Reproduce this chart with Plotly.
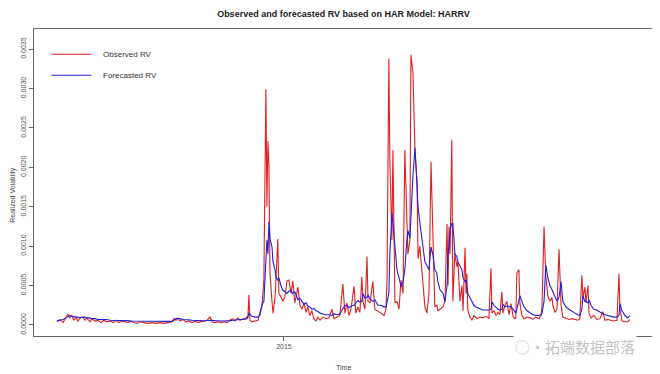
import numpy as np
import plotly.graph_objects as go

# Time in decimal years (R ts style)
time = [
    2014.106, 2014.118, 2014.130, 2014.142, 2014.150, 2014.157, 2014.165, 2014.173, 2014.181, 2014.189,
    2014.197, 2014.209, 2014.217, 2014.224, 2014.236, 2014.244, 2014.256, 2014.268, 2014.280, 2014.291,
    2014.303, 2014.315, 2014.327, 2014.339, 2014.350, 2014.362, 2014.374, 2014.386, 2014.398, 2014.409,
    2014.421, 2014.433, 2014.449, 2014.465, 2014.480, 2014.496, 2014.512, 2014.528, 2014.543, 2014.559,
    2014.567, 2014.575, 2014.583, 2014.591, 2014.602, 2014.614, 2014.626, 2014.638, 2014.650, 2014.661,
    2014.673, 2014.685, 2014.697, 2014.709, 2014.717, 2014.728, 2014.740, 2014.752, 2014.764, 2014.776,
    2014.787, 2014.799, 2014.807, 2014.819, 2014.827, 2014.839, 2014.846, 2014.854, 2014.858, 2014.862,
    2014.866, 2014.874, 2014.886, 2014.898, 2014.906, 2014.913, 2014.921, 2014.929, 2014.933, 2014.937,
    2014.941, 2014.945, 2014.953, 2014.957, 2014.965, 2014.969, 2014.976, 2014.980, 2014.988, 2014.996,
    2015.004, 2015.012, 2015.020, 2015.028, 2015.035, 2015.043, 2015.055, 2015.063, 2015.071, 2015.079,
    2015.087, 2015.094, 2015.102, 2015.110, 2015.118, 2015.126, 2015.134, 2015.142, 2015.154, 2015.165,
    2015.177, 2015.189, 2015.197, 2015.209, 2015.220, 2015.232, 2015.240, 2015.248, 2015.256, 2015.264,
    2015.276, 2015.283, 2015.291, 2015.299, 2015.307, 2015.311, 2015.319, 2015.327, 2015.331, 2015.339,
    2015.350, 2015.358, 2015.370, 2015.382, 2015.394, 2015.402, 2015.406, 2015.413, 2015.417, 2015.425,
    2015.429, 2015.437, 2015.445, 2015.453, 2015.461, 2015.469, 2015.476, 2015.484, 2015.488, 2015.496,
    2015.500, 2015.508, 2015.516, 2015.524, 2015.528, 2015.535, 2015.543, 2015.551, 2015.555, 2015.563,
    2015.571, 2015.579, 2015.587, 2015.594, 2015.602, 2015.606, 2015.614, 2015.626, 2015.634, 2015.642,
    2015.646, 2015.650, 2015.654, 2015.661, 2015.665, 2015.673, 2015.681, 2015.685, 2015.693, 2015.701,
    2015.705, 2015.713, 2015.717, 2015.720, 2015.724, 2015.732, 2015.740, 2015.748, 2015.760, 2015.772,
    2015.783, 2015.795, 2015.807, 2015.815, 2015.819, 2015.827, 2015.835, 2015.843, 2015.850, 2015.858,
    2015.862, 2015.870, 2015.878, 2015.886, 2015.894, 2015.902, 2015.909, 2015.913, 2015.917, 2015.925,
    2015.929, 2015.937, 2015.945, 2015.957, 2015.969, 2015.980, 2015.992, 2016.004, 2016.012, 2016.016,
    2016.024, 2016.031, 2016.039, 2016.047, 2016.055, 2016.059, 2016.067, 2016.075, 2016.083, 2016.091,
    2016.098, 2016.110, 2016.122, 2016.134, 2016.146, 2016.157, 2016.165, 2016.173, 2016.177, 2016.185,
    2016.189, 2016.197, 2016.201, 2016.209, 2016.220, 2016.232, 2016.244, 2016.256, 2016.264, 2016.276,
    2016.287, 2016.299, 2016.311, 2016.319, 2016.323, 2016.331, 2016.343, 2016.354, 2016.362,
]

# Observed RV (units of 1e-4)
observed_e4 = [
    0.4, 0.7, 0.3, 1.0, 1.4, 0.9, 1.2, 0.6, 1.0, 0.5,
    0.9, 1.0, 0.6, 0.9, 0.4, 0.8, 0.5, 0.6, 0.3, 0.6,
    0.4, 0.5, 0.3, 0.6, 0.3, 0.5, 0.4, 0.3, 0.5, 0.3,
    0.2, 0.4, 0.3, 0.2, 0.3, 0.2, 0.3, 0.2, 0.3, 0.4,
    0.8, 0.6, 0.9, 0.5, 0.7, 0.4, 0.5, 0.3, 0.5, 0.3,
    0.4, 0.5, 0.6, 1.0, 0.4, 0.3, 0.4, 0.3, 0.4, 0.3,
    0.6, 0.8, 0.5, 0.9, 0.6, 0.8, 0.7, 1.0, 0.9, 3.8,
    0.6, 0.4, 0.5, 0.6, 1.7, 2.3, 5.7, 29.9, 15.0, 23.3,
    20.0, 6.6, 3.0, 1.5, 3.5, 6.0, 10.9, 4.0, 3.6, 3.0,
    3.6, 5.6, 5.7, 4.0, 5.6, 2.8, 4.8, 2.5, 2.0, 2.8,
    1.6, 2.3, 1.2, 1.8, 0.8, 0.5, 1.0, 0.6, 1.0, 0.8,
    0.9, 2.0, 0.8, 1.0, 1.2, 5.2, 1.5, 2.8, 1.2, 2.0,
    4.9, 1.5, 2.3, 1.6, 6.1, 3.0, 2.0, 8.7, 3.0, 2.8,
    5.5, 2.0, 1.8, 1.5, 1.2, 2.0, 6.0, 33.8, 20.9, 10.8,
    22.2, 2.8, 3.0, 2.0, 5.7, 4.0, 22.2, 12.8, 9.0, 10.8,
    34.3, 32.0, 22.0, 18.4, 8.4, 10.0, 6.6, 4.0, 2.3, 1.5,
    4.0, 20.7, 10.8, 2.3, 2.5, 1.8, 2.0, 2.3, 3.0, 12.8,
    5.0, 12.5, 9.0, 23.5, 3.0, 9.1, 7.4, 8.0, 3.0, 5.0,
    1.8, 9.8, 4.0, 6.5, 1.9, 1.0, 0.6, 1.2, 0.8, 1.0,
    0.9, 1.1, 0.8, 7.2, 1.5, 1.8, 1.2, 1.6, 1.3, 4.2,
    1.5, 2.5, 3.0, 1.3, 2.7, 1.1, 0.8, 0.9, 6.6, 7.0,
    2.7, 1.2, 0.8, 1.0, 0.9, 0.7, 1.0, 0.8, 1.3, 2.3,
    12.5, 6.2, 3.7, 3.0, 3.5, 2.5, 1.6, 2.0, 9.6, 2.5,
    1.0, 0.8, 0.7, 0.8, 0.7, 0.6, 0.8, 6.3, 3.5, 4.8,
    2.8, 5.0, 1.5, 0.9, 1.2, 0.7, 0.8, 1.7, 0.6, 0.7,
    0.6, 0.5, 0.6, 6.5, 2.0, 0.5, 0.4, 0.4, 0.7,
]

# Forecasted RV (units of 1e-4)
forecast_e4 = [
    0.5, 0.6, 0.7, 0.9, 1.1, 1.2, 1.1, 1.0, 1.0, 1.0,
    0.9, 1.0, 1.0, 0.9, 0.9, 0.8, 0.8, 0.7, 0.7, 0.7,
    0.7, 0.6, 0.6, 0.6, 0.6, 0.6, 0.6, 0.55, 0.5, 0.5,
    0.5, 0.5, 0.5, 0.45, 0.45, 0.45, 0.45, 0.45, 0.45, 0.45,
    0.6, 0.8, 0.8, 0.8, 0.7, 0.7, 0.65, 0.6, 0.6, 0.55,
    0.55, 0.5, 0.55, 0.6, 0.6, 0.55, 0.5, 0.5, 0.5, 0.5,
    0.55, 0.6, 0.65, 0.65, 0.7, 0.7, 0.75, 0.8, 1.0, 1.5,
    1.4, 1.1, 1.0, 1.0, 1.3, 2.5, 3.0, 8.0, 10.8, 9.0,
    13.1, 11.0, 9.9, 8.0, 7.0, 6.0, 5.7, 6.0, 5.0, 4.4,
    4.2, 4.0, 4.3, 4.3, 4.0, 4.2, 3.2, 3.4, 3.0, 2.6,
    2.8, 2.4, 2.3, 2.0, 2.1, 1.8, 1.7, 1.5, 1.4, 1.3,
    1.3, 1.2, 1.4, 1.3, 1.4, 2.0, 2.5, 2.5, 2.2, 2.4,
    2.5, 2.8, 3.1, 2.9, 3.0, 4.0, 3.4, 3.5, 3.8, 3.3,
    3.0, 3.2, 2.5, 2.5, 2.3, 2.3, 3.0, 4.0, 9.0, 14.2,
    13.0, 10.0, 7.0, 6.0, 4.8, 5.5, 7.0, 10.8, 12.0, 11.0,
    14.0, 19.0, 22.5, 17.0, 15.0, 13.0, 10.8, 9.0, 8.0, 7.5,
    7.0, 9.9, 8.8, 7.0, 6.6, 5.5, 4.5, 4.0, 3.0, 5.0,
    9.0, 10.0, 12.0, 12.9, 12.9, 9.0, 8.7, 8.0, 7.5, 7.0,
    6.0, 5.5, 5.7, 5.0, 4.0, 3.5, 3.0, 2.5, 2.2, 2.0,
    1.9, 1.9, 1.9, 2.0, 2.9, 2.5, 2.2, 2.0, 1.9, 2.0,
    2.6, 2.3, 2.4, 2.3, 2.3, 2.0, 1.7, 1.5, 2.0, 3.0,
    3.7, 3.0, 2.3, 1.8, 1.5, 1.3, 1.2, 1.2, 1.3, 1.5,
    3.0, 7.6, 6.0, 5.0, 4.5, 4.2, 3.5, 3.0, 3.5, 5.5,
    3.0, 2.3, 2.0, 1.7, 1.5, 1.3, 1.2, 2.0, 3.7, 3.0,
    3.0, 2.8, 3.2, 2.5, 2.0, 1.9, 1.6, 1.4, 1.3, 1.2,
    1.1, 1.0, 1.0, 1.2, 2.7, 1.8, 1.2, 0.9, 1.2,
]

y_ticks = [0.0, 0.0005, 0.0010, 0.0015, 0.0020, 0.0025, 0.0030, 0.0035]
y_tick_text = ["0.0000", "0.0005", "0.0010", "0.0015", "0.0020", "0.0025", "0.0030", "0.0035"]
x_ticks = [2015, 2016]
x_tick_text = ["2015", "2016"]

observed = np.array(observed_e4) * 1e-4
forecast = np.array(forecast_e4) * 1e-4

FONT = "Liberation Sans, Arial, sans-serif"
NB = "\u00a0\u00a0\u00a0"

fig = go.Figure()
fig.add_trace(go.Scatter(x=time, y=observed, mode="lines", name=NB + "Observed RV",
                         line=dict(color="#e02020", width=1.1), legendgroup="a"))
fig.add_trace(go.Scatter(x=time, y=forecast, mode="lines", name=NB + "Forecasted RV",
                         line=dict(color="#2020d8", width=1.1), legendgroup="b"))

axis_common = dict(showline=True, linecolor="#666666", linewidth=1, mirror=True,
                   showgrid=False, zeroline=False, ticks="outside", ticklen=4,
                   tickcolor="#666666", tickfont=dict(size=7, color="#555555", family=FONT))

# page body has an 8px margin, so the figure is 8px smaller than the window
fig.update_layout(
    width=652, height=366,
    margin=dict(l=26, r=7, t=21, b=38, autoexpand=False),
    paper_bgcolor="white", plot_bgcolor="white",
    font=dict(family=FONT, color="#333333"),
    title=dict(text="<b>Observed and forecasted RV based on HAR Model: HARRV</b>",
               x=0.5, xref="paper", xanchor="center", y=0.985, yref="container",
               yanchor="middle", font=dict(size=9, color="#222222", family=FONT)),
    xaxis=dict(range=[2014.016, 2016.453], tickvals=x_ticks, ticktext=x_tick_text,
               automargin=False, **axis_common),
    yaxis=dict(range=[-0.00014, 0.003756], tickvals=y_ticks, ticktext=y_tick_text,
               tickangle=-90, automargin=False, **axis_common),
    legend=dict(x=0.02, y=0.965, xanchor="left", yanchor="top", bgcolor="rgba(0,0,0,0)",
                font=dict(size=8, color="#333333", family=FONT), itemwidth=40,
                tracegroupgap=2, traceorder="grouped"),
    showlegend=True,
)

fig.add_annotation(text="Time", x=0.5, xref="paper", y=-0.101, yref="paper",
                   showarrow=False, yanchor="middle", font=dict(size=7, color="#444444", family=FONT))
fig.add_annotation(text="Realized Volatility", x=-0.034, xref="paper", y=0.46, yref="paper",
                   showarrow=False, textangle=-90, xanchor="center",
                   font=dict(size=7, color="#444444", family=FONT))
fig.add_annotation(text="\u25cc\u00b7\u62d3\u7aef\u6570\u636e\u90e8\u843d", x=0.874, xref="paper",
                   xanchor="center", y=-0.035, yref="paper", showarrow=False, yanchor="middle",
                   bgcolor="white", font=dict(size=15, color="#c4c4c4",
                                              family="Noto Sans CJK SC"))

fig.write_html("out.html")
